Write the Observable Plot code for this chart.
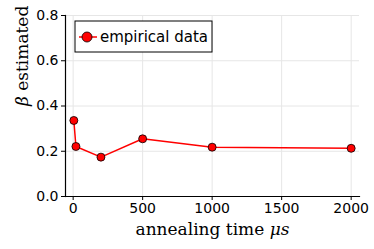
<!DOCTYPE html>
<html>
<head>
<meta charset="utf-8">
<script src="https://cdn.jsdelivr.net/npm/d3@7"></script>
<script src="https://cdn.jsdelivr.net/npm/@observablehq/plot@0.6"></script>
<style>
  body { margin: 0; background: #fff; }
</style>
</head>
<body>
<div id="chart"></div>
<script>
const annealTime = [5, 20, 200, 500, 1000, 2000];
const betaEstimated = [0.336, 0.221, 0.174, 0.255, 0.218, 0.213];
const xTicks = [0, 500, 1000, 1500, 2000];
const yTicks = [0, 0.2, 0.4, 0.6, 0.8];
const seriesName = "empirical data";

const data = annealTime.map((t, i) => ({t, b: betaEstimated[i]}));

const plot = Plot.plot({
  width: 374,
  height: 249,
  marginLeft: 65,
  marginRight: 15,
  marginTop: 15,
  marginBottom: 53,
  style: {fontFamily: "DejaVu Sans", fontSize: "14px", color: "#000", background: "#fff"},
  x: {domain: [-55, 2060], ticks: xTicks},
  y: {domain: [0, 0.8], ticks: yTicks},
  marks: [
    Plot.gridX(xTicks, {stroke: "#e6e6e6", strokeOpacity: 1, strokeWidth: 1}),
    Plot.gridY(yTicks, {stroke: "#e6e6e6", strokeOpacity: 1, strokeWidth: 1}),
    Plot.axisX(xTicks, {tickSize: 4, tickPadding: 3, label: null, fontSize: 14, tickFormat: d3.format("d")}),
    Plot.axisY(yTicks, {tickSize: 4, tickPadding: 3, label: null, fontSize: 14, tickFormat: d3.format(".1f")}),
    Plot.frame({anchor: "left", stroke: "#000", strokeWidth: 1.2}),
    Plot.frame({anchor: "bottom", stroke: "#000", strokeWidth: 1.2}),
    Plot.line(data, {x: "t", y: "b", stroke: "#ff0000", strokeWidth: 1.5}),
    Plot.dot(data, {x: "t", y: "b", r: 4, fill: "#ff0000", stroke: "#000", strokeWidth: 0.8}),
    Plot.text(["annealing time μs"], {frameAnchor: "bottom", dy: 38, fontFamily: "DejaVu Serif", fontSize: 17, fill: "#000", className: "xlab"}),
    Plot.text(["β estimated"], {frameAnchor: "left", dx: -43, rotate: -90, fontFamily: "DejaVu Serif", fontSize: 17, fill: "#000", className: "ylab"})
  ]
});

document.getElementById("chart").appendChild(plot);

// italicize math parts
const svg = d3.select(plot);
svg.select("g.xlab text").each(function() {
  const t = d3.select(this);
  t.text("");
  t.append("tspan").text("annealing time ");
  t.append("tspan").attr("font-style", "italic").text("μs");
});
svg.select("g.ylab text").each(function() {
  const t = d3.select(this);
  t.text("");
  t.append("tspan").attr("font-style", "italic").text("β");
  t.append("tspan").text(" estimated");
});

// legend
const lg = svg.append("g").attr("transform", "translate(75,21)");
lg.append("rect").attr("width", 137).attr("height", 31).attr("fill", "#fff").attr("stroke", "#000").attr("stroke-width", 1);
lg.append("line").attr("x1", 4).attr("x2", 22).attr("y1", 16).attr("y2", 16).attr("stroke", "#ff0000").attr("stroke-width", 1.5);
lg.append("circle").attr("cx", 12).attr("cy", 16).attr("r", 5).attr("fill", "#ff0000").attr("stroke", "#000").attr("stroke-width", 0.8);
lg.append("text").attr("x", 25).attr("y", 16).attr("dy", "0.35em").attr("text-anchor", "start").attr("font-family", "DejaVu Sans").attr("font-size", 15).attr("fill", "#000").text(seriesName);
</script>
</body>
</html>
